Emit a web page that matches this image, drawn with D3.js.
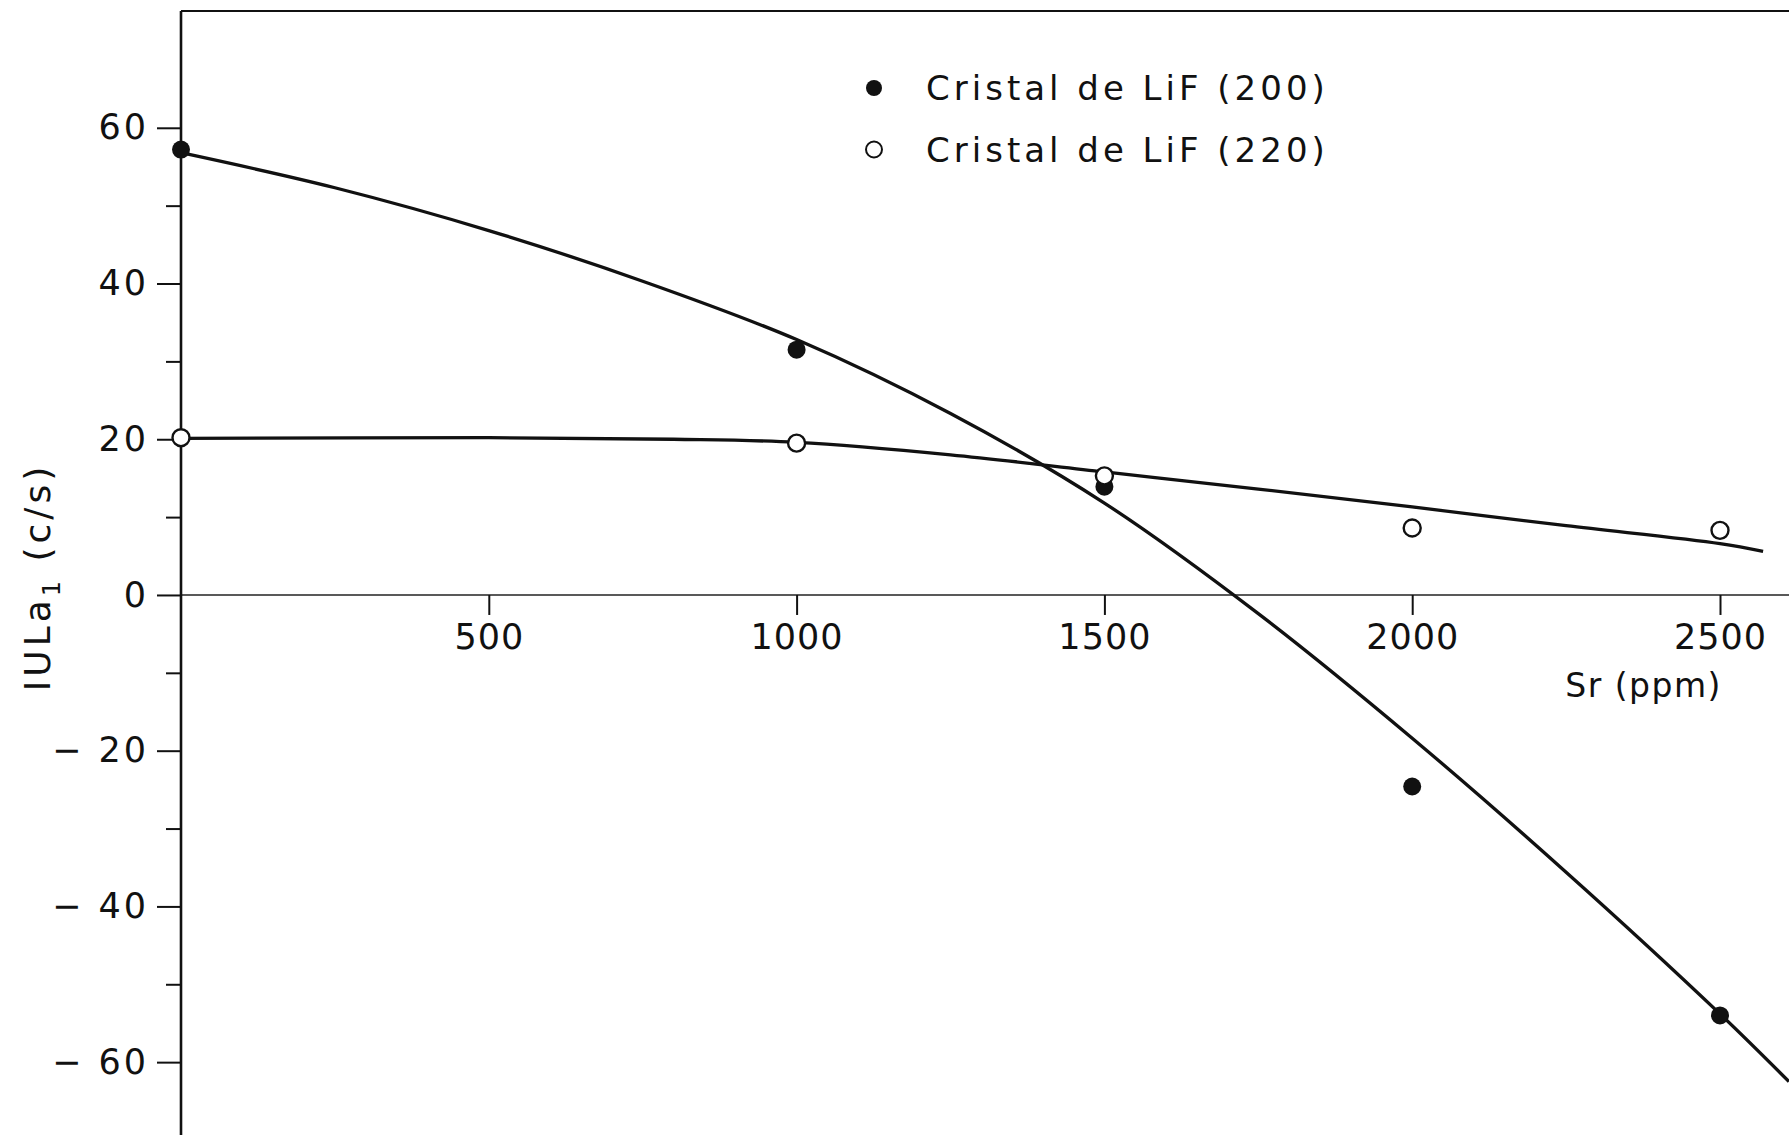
<!DOCTYPE html>
<html>
<head>
<meta charset="utf-8">
<script src="https://cdn.jsdelivr.net/npm/d3@7"></script>
<style>
  html, body { margin: 0; padding: 0; background: #fff; }
  svg { display: block; }
  text { font-family: "DejaVu Sans", sans-serif; fill: #111; }
</style>
</head>
<body>
<div id="chart"></div>
<script>
const W = 1789, H = 1135;

// measured points
const srPpm = [0, 1000, 1500, 2000, 2500];
const lif200 = [57.2, 31.5, 13.9, -24.6, -54.0];
const lif220 = [20.2, 19.5, 15.3, 8.6, 8.3];

// hand-drawn fitted curves
const fit200X = [0, 250, 500, 750, 1000, 1250, 1500, 1750, 2000, 2250, 2500, 2612];
const fit200Y = [56.8, 52.3, 46.8, 40.3, 32.8, 23.3, 11.8, -2.4, -18.4, -35.6, -53.8, -62.5];
const fit220X = [0, 500, 800, 1000, 1250, 1500, 1750, 2000, 2250, 2500, 2570];
const fit220Y = [20.1, 20.2, 20.0, 19.6, 18.0, 15.8, 13.6, 11.3, 8.9, 6.6, 5.6];

const xTicks = [500, 1000, 1500, 2000, 2500];
const yMajor = [-60, -40, -20, 0, 20, 40, 60];
const yMinor = [-50, -30, -10, 10, 30, 50];

const legendLabels = ['Cristal de LiF (200)', 'Cristal de LiF (220)'];

const x = d3.scaleLinear().domain([0, 2500]).range([181, 1720]);
const y = d3.scaleLinear().domain([-70, 75]).range([1140, 11]);

const svg = d3.select('#chart').append('svg')
  .attr('width', W).attr('height', H)
  .attr('viewBox', `0 0 ${W} ${H}`);

// frame top + zero line
svg.append('line')
  .attr('x1', x(0)).attr('x2', W).attr('y1', y(75)).attr('y2', y(75))
  .attr('stroke', '#111').attr('stroke-width', 2);

svg.append('line')
  .attr('x1', x(0)).attr('x2', W).attr('y1', y(0)).attr('y2', y(0))
  .attr('stroke', '#222').attr('stroke-width', 1.6);

// x axis ticks
const xAxis = svg.append('g')
  .attr('transform', `translate(0,${y(0)})`)
  .call(d3.axisBottom(x).tickValues(xTicks).tickSize(20).tickPadding(9).tickFormat(d3.format('d')));
xAxis.select('.domain').remove();
xAxis.selectAll('.tick line').attr('stroke', '#111').attr('stroke-width', 2);
xAxis.selectAll('.tick text')
  .style('font-size', '35px')
  .style('letter-spacing', '1px')
  .attr('fill', '#111');

// y axis
const yAxisG = svg.append('g').attr('transform', `translate(${x(0)},0)`);
yAxisG.call(d3.axisLeft(y).tickValues(yMajor).tickSize(24).tickPadding(8)
  .tickFormat(d => d < 0 ? '\u2212 ' + Math.abs(d) : String(d)));
yAxisG.select('.domain').remove();
yAxisG.selectAll('.tick line').attr('stroke', '#111').attr('stroke-width', 2);
yAxisG.selectAll('.tick text')
  .style('font-size', '35px')
  .style('letter-spacing', '3px')
  .attr('fill', '#111');

const yMinorG = svg.append('g').attr('transform', `translate(${x(0)},0)`);
yMinorG.call(d3.axisLeft(y).tickValues(yMinor).tickSize(15).tickFormat(''));
yMinorG.select('.domain').remove();
yMinorG.selectAll('.tick line').attr('stroke', '#111').attr('stroke-width', 2);

svg.append('line')
  .attr('x1', x(0)).attr('x2', x(0)).attr('y1', y(75)).attr('y2', H)
  .attr('stroke', '#111').attr('stroke-width', 2.6);

// axis titles
svg.append('text')
  .attr('x', x(2500) + 2).attr('y', 697)
  .attr('text-anchor', 'end')
  .style('font-size', '33px')
  .style('letter-spacing', '1.5px')
  .text('Sr (ppm)');

const yTitle = svg.append('text')
  .attr('transform', 'translate(50,577) rotate(-90)')
  .attr('text-anchor', 'middle')
  .style('font-size', '36px')
  .style('letter-spacing', '4px');
yTitle.append('tspan').text('IULa');
yTitle.append('tspan').attr('dy', 10).style('font-size', '24px').text('1');
yTitle.append('tspan').attr('dy', -10).text(' (c/s)');

// curves
const line = d3.line().x(d => x(d[0])).y(d => y(d[1])).curve(d3.curveCatmullRom.alpha(0.5));

svg.append('path')
  .datum(d3.zip(fit200X, fit200Y))
  .attr('d', line)
  .attr('fill', 'none').attr('stroke', '#111').attr('stroke-width', 3.3);

svg.append('path')
  .datum(d3.zip(fit220X, fit220Y))
  .attr('d', line)
  .attr('fill', 'none').attr('stroke', '#111').attr('stroke-width', 3.3);

// points
svg.append('g').selectAll('circle')
  .data(d3.zip(srPpm, lif200))
  .join('circle')
  .attr('cx', d => x(d[0])).attr('cy', d => y(d[1]))
  .attr('r', 9)
  .attr('fill', '#111');

svg.append('g').selectAll('circle')
  .data(d3.zip(srPpm, lif220))
  .join('circle')
  .attr('cx', d => x(d[0])).attr('cy', d => y(d[1]))
  .attr('r', 8.5)
  .attr('fill', '#fff').attr('stroke', '#111').attr('stroke-width', 2.4);

// legend
const legend = svg.append('g');
const rows = legend.selectAll('g')
  .data(legendLabels)
  .join('g')
  .attr('transform', (d, i) => `translate(874,${88 + i * 61.5})`);

rows.append('circle')
  .attr('r', 8)
  .attr('fill', (d, i) => i === 0 ? '#111' : '#fff')
  .attr('stroke', '#111')
  .attr('stroke-width', (d, i) => i === 0 ? 0 : 2);

rows.append('text')
  .attr('x', 52).attr('y', 12)
  .style('font-size', '34px')
  .style('letter-spacing', '4px')
  .text(d => d);
</script>
</body>
</html>
